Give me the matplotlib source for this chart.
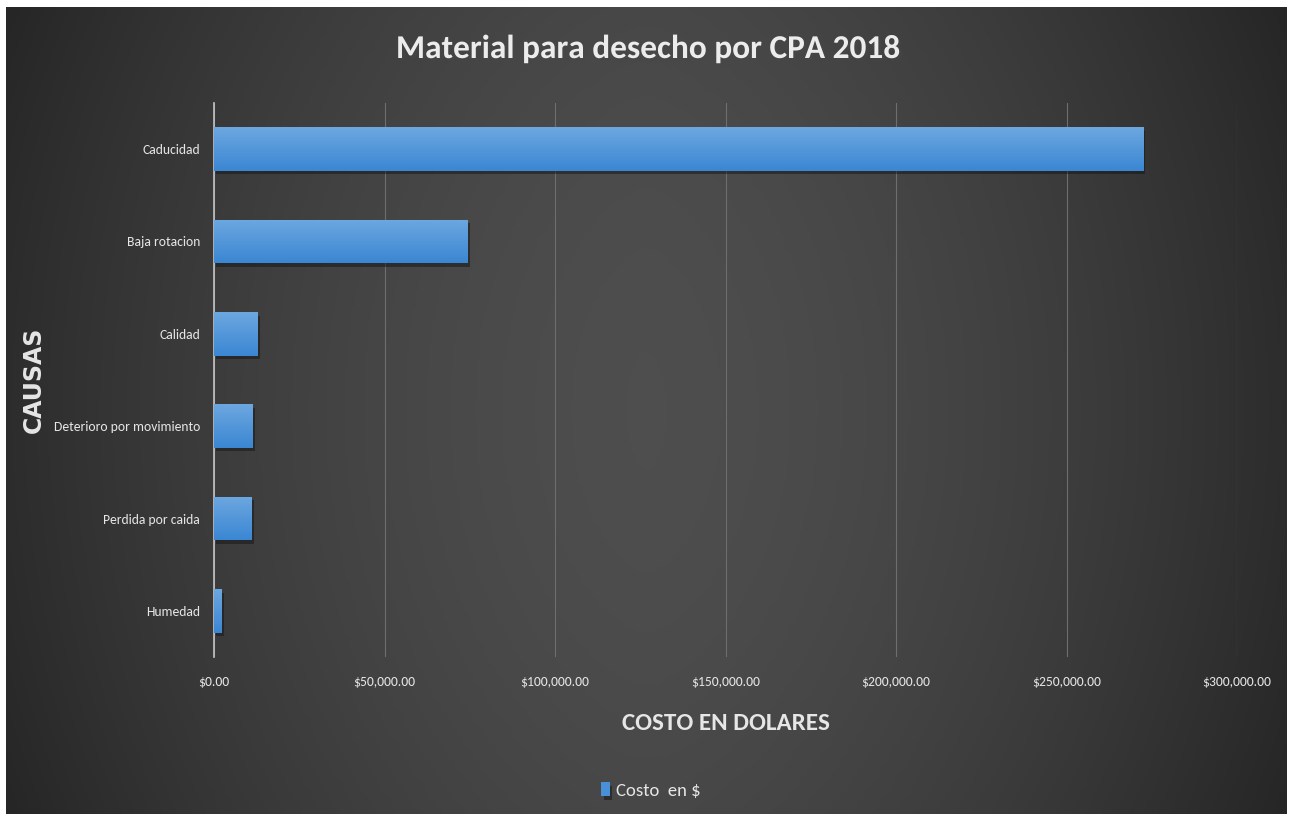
import numpy as np
import matplotlib.pyplot as plt
import matplotlib.patheffects as pe
from matplotlib.ticker import FuncFormatter
from matplotlib.colors import LinearSegmentedColormap

# causas de desecho y su costo en dolares
causas = ['Caducidad', 'Baja rotacion', 'Calidad', 'Deterioro por movimiento',
          'Perdida por caida', 'Humedad']
costos = [272500, 74400, 12900, 11400, 11100, 2300]
ticks = [0, 50000, 100000, 150000, 200000, 250000, 300000]

narrow = ['Carlito', 'Open Sans Condensed', 'Liberation Sans Narrow', 'DejaVu Sans']
txt = '#e6e6e6'

fig = plt.figure(figsize=(12.92, 8.14), dpi=100)
fig.patch.set_facecolor('white')

# fondo gris oscuro con degradado
bg = fig.add_axes([6 / 1292, 0, 1281 / 1292, 807 / 814])
bg.set_axis_off()
xx = np.linspace(-1, 1, 400)
yy = np.linspace(-1, 1, 300)
X, Y = np.meshgrid(xx, yy)
grad = 1 - 0.75 * np.abs(X) ** 1.6 - 0.15 * Y ** 2
bg_cmap = LinearSegmentedColormap.from_list('bg', ['#262626', '#4e4e4e'])
bg.imshow(grad, cmap=bg_cmap, aspect='auto', extent=[0, 1, 0, 1], vmin=0.1, vmax=1)

ax = fig.add_axes([214 / 1292, 1 - 657 / 814, (1237 - 214) / 1292, (657 - 103) / 814])
ax.patch.set_alpha(0)

y = np.arange(len(causas))[::-1]
bars = ax.barh(y, costos, height=0.47, color='#4a90d9', zorder=3,
               path_effects=[pe.SimplePatchShadow(offset=(1.5, -2.5), shadow_rgbFace='#151515', alpha=0.5),
                             pe.Normal()])

# degradado azul dentro de cada barra
bar_cmap = LinearSegmentedColormap.from_list('bar', ['#3b87d3', '#6ca7e0'])
for b in bars:
    x0, y0, w, h = b.get_x(), b.get_y(), b.get_width(), b.get_height()
    im = ax.imshow(np.linspace(0, 1, 50).reshape(-1, 1), cmap=bar_cmap, aspect='auto',
                   origin='lower', extent=[x0, x0 + w, y0, y0 + h], zorder=4)
    im.set_clip_path(b)

ax.set_xlim(0, 300000)
ax.set_ylim(-0.5, len(causas) - 0.5)
ax.set_xticks(ticks)
ax.xaxis.set_major_formatter(FuncFormatter(lambda v, p: f'${v:,.2f}'))
ax.set_yticks(y)
ax.set_yticklabels(causas)
ax.grid(axis='x', color='#6e6e6e', linewidth=0.8, zorder=0)
ax.tick_params(length=0, colors=txt, labelsize=9.8, pad=10)
ax.tick_params(axis='x', pad=14)
for lab in ax.get_xticklabels() + ax.get_yticklabels():
    lab.set_family(narrow)
for side in ['top', 'right', 'bottom']:
    ax.spines[side].set_visible(False)
ax.spines['left'].set_color('#c4c4c4')
ax.spines['left'].set_linewidth(1.2)

ax.set_xlabel('COSTO EN DOLARES', family=narrow, fontsize=18, fontweight='bold',
              color=txt, labelpad=18)
ax.set_ylabel('CAUSAS', family='DejaVu Sans', fontsize=17, fontweight='bold',
              color=txt, labelpad=0)
ax.yaxis.set_label_coords(-0.164, 0.5)

fig.text(0.5015, 1 - 49 / 814, 'Material para desecho por CPA 2018', ha='center', va='center',
         family=narrow, fontsize=24, fontweight='bold', color='#ececec',
         path_effects=[pe.SimplePatchShadow(offset=(2, -2), alpha=0.5), pe.Normal()])

leg = ax.legend([bars[0]], ['Costo  en $'], loc='center', bbox_to_anchor=(0.427, -0.241),
                frameon=False, handlelength=0.45, handleheight=0.75, handletextpad=0.3,
                prop={'family': narrow, 'size': 13.5})
for t in leg.get_texts():
    t.set_color(txt)

fig.savefig('out.png', dpi=100, facecolor=fig.get_facecolor())
